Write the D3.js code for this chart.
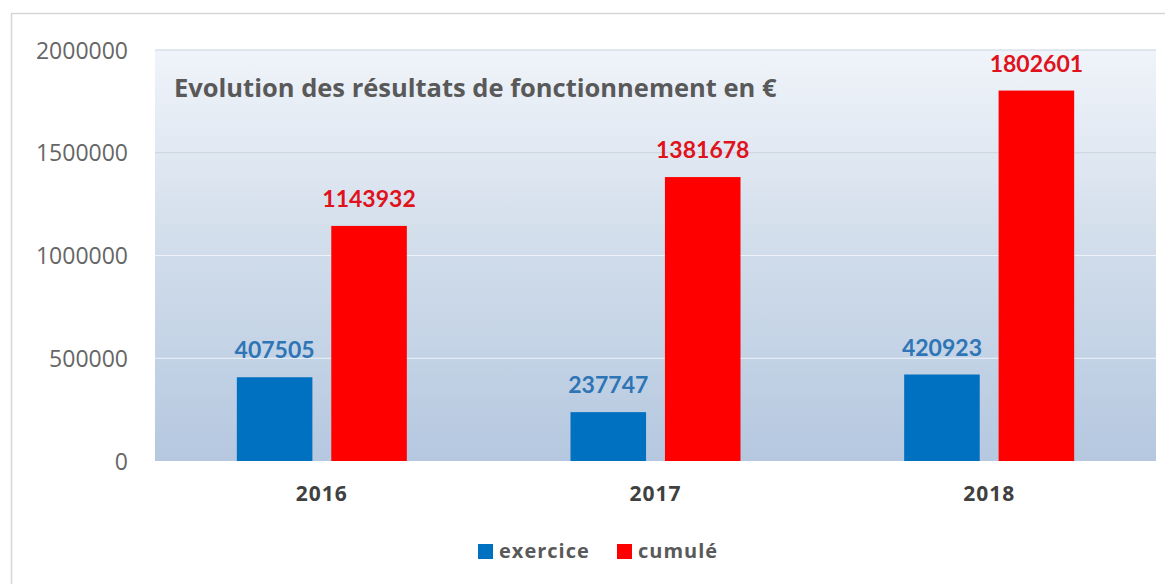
<!DOCTYPE html>
<html>
<head>
<meta charset="utf-8">
<script src="https://cdn.jsdelivr.net/npm/d3@7"></script>
<style>
  body { margin: 0; background: #fff; }
  svg { display: block; font-family: Lato, "Open Sans", sans-serif; }
</style>
</head>
<body>
<div id="container"></div>
<script>
// data
var years = ["2016", "2017", "2018"];
var exercice = [407505, 237747, 420923];
var cumule = [1143932, 1381678, 1802601];
var seriesNames = ["exercice", "cumulé"];
var yTicks = [0, 500000, 1000000, 1500000, 2000000];
var title = "Evolution des résultats de fonctionnement en €";

var width = 1165, height = 584;
var margin = {top: 50, right: 9, bottom: 123, left: 155};
var w = width - margin.left - margin.right;
var h = height - margin.top - margin.bottom;

var colors = {exercice: "#0070c0", cumule: "#ff0000"};
var labelColors = {exercice: "#2e75b6", cumule: "#e0121c"};
var groupW = 170;

var svg = d3.select("#container").append("svg")
    .attr("width", width)
    .attr("height", height);

// outer frame (top + left edges visible)
svg.append("line").attr("x1", 11).attr("x2", width).attr("y1", 13.5).attr("y2", 13.5)
    .attr("stroke", "#d6d6d6").attr("stroke-width", 1.5);
svg.append("line").attr("x1", 11.5).attr("x2", 11.5).attr("y1", 13).attr("y2", height)
    .attr("stroke", "#d6d6d6").attr("stroke-width", 1.5);

var defs = svg.append("defs");
var grad = defs.append("linearGradient").attr("id", "bg")
    .attr("x1", 0).attr("y1", 0).attr("x2", 0).attr("y2", 1);
grad.append("stop").attr("offset", "0%").attr("stop-color", "#f0f4fa");
grad.append("stop").attr("offset", "50%").attr("stop-color", "#d0dcea");
grad.append("stop").attr("offset", "100%").attr("stop-color", "#b5c8e0");

var g = svg.append("g").attr("transform", "translate(" + margin.left + "," + margin.top + ")");

var x0 = d3.scaleBand().domain(years).range([0, w]);
var x1 = d3.scaleBand().domain(["exercice", "cumule"]).range([0, groupW]).paddingInner(0.2);
var y = d3.scaleLinear().domain([0, 2000000]).range([h, 0]);

g.append("rect").attr("width", w).attr("height", h).attr("fill", "url(#bg)");

// gridlines
g.append("g").selectAll("line")
    .data(yTicks.slice(1))
    .enter().append("line")
    .attr("x1", 0).attr("x2", w)
    .attr("y1", function(d) { return y(d); })
    .attr("y2", function(d) { return y(d); })
    .attr("stroke", function(d) { return d > 1000000 ? "#c9d3df" : "#eef3f9"; })
    .attr("stroke-width", 1.2);

// y axis
var yAxis = d3.axisLeft(y).tickValues(yTicks).tickSize(0).tickPadding(27)
    .tickFormat(function(d) { return d; });
var ya = g.append("g").call(yAxis);
ya.select(".domain").remove();
ya.selectAll("text").attr("fill", "#666666").style("font-size", "23px")
    .style("font-family", "'Open Sans', sans-serif").attr("dy", "0.35em");

// x axis
var xAxis = d3.axisBottom(x0).tickSize(0).tickPadding(25);
var xa = g.append("g").attr("transform", "translate(0," + h + ")").call(xAxis);
xa.select(".domain").remove();
xa.selectAll("text").attr("fill", "#404040").style("font-size", "21px")
    .style("font-weight", "bold").style("font-family", "'Open Sans', sans-serif")
    .style("letter-spacing", "1px");

var rows = years.map(function(yr, i) {
    return {year: yr, vals: [{key: "exercice", v: exercice[i]}, {key: "cumule", v: cumule[i]}]};
});

var groups = g.selectAll(".grp").data(rows).enter().append("g")
    .attr("class", "grp")
    .attr("transform", function(d) { return "translate(" + (x0(d.year) + (x0.bandwidth() - groupW) / 2) + ",0)"; });

groups.selectAll("rect").data(function(d) { return d.vals; }).enter().append("rect")
    .attr("x", function(d) { return x1(d.key); })
    .attr("width", x1.bandwidth())
    .attr("y", function(d) { return y(d.v); })
    .attr("height", function(d) { return h - y(d.v); })
    .attr("fill", function(d) { return colors[d.key]; });

groups.selectAll("text").data(function(d) { return d.vals; }).enter().append("text")
    .attr("x", function(d) { return x1(d.key) + x1.bandwidth() / 2; })
    .attr("y", function(d) { return y(d.v) - 19; })
    .attr("text-anchor", "middle")
    .attr("fill", function(d) { return labelColors[d.key]; })
    .style("font-size", "23px").style("font-weight", "bold")
    .text(function(d) { return d.v; });

// title inside the plot
g.append("text").attr("x", 19).attr("y", 47)
    .attr("fill", "#595959").style("font-size", "25.5px").style("font-weight", "bold")
    .style("font-family", "'Open Sans', sans-serif")
    .text(title);

// legend
var legend = svg.append("g").attr("transform", "translate(478,551)");
var lx = [0, 139];
seriesNames.forEach(function(name, i) {
    var key = i === 0 ? "exercice" : "cumule";
    legend.append("rect").attr("x", lx[i]).attr("y", -7).attr("width", 15).attr("height", 15)
        .attr("fill", colors[key]);
    legend.append("text").attr("x", lx[i] + 21).attr("y", 0).attr("dy", "0.35em")
        .attr("fill", "#595959").style("font-size", "20px").style("font-weight", "bold")
        .style("font-family", "'Open Sans', sans-serif").style("letter-spacing", "1px")
        .text(name);
});
</script>
</body>
</html>
